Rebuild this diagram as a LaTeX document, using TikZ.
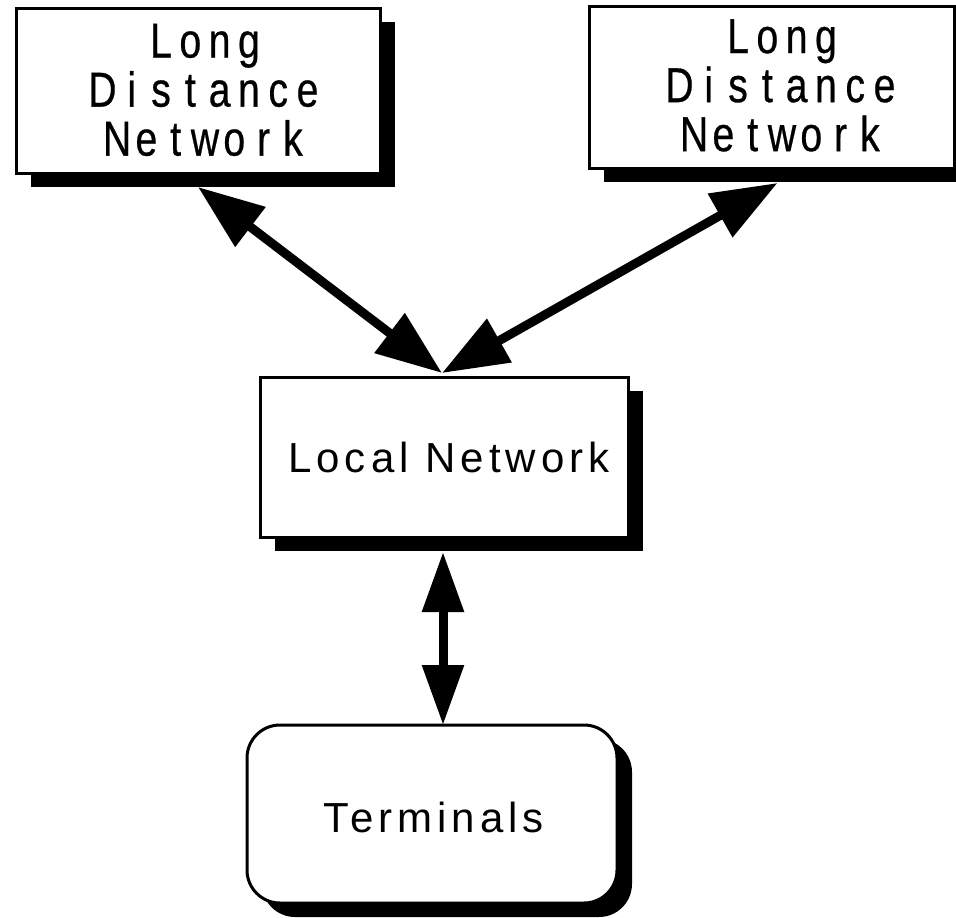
\documentclass[tikz,border=0pt]{standalone}
\usepackage{fontspec}
\usepackage{graphicx}
\setmainfont{Liberation Sans}
\newfontfamily\spacedsans{Liberation Sans}[LetterSpace=12]
\newfontfamily\gothicsans{Liberation Sans}[FakeBold=0.6]
\usetikzlibrary{arrows.meta,shadows}
\makeatletter
\newcommand\monoword[1]{\@tfor\mw@c:=#1\do{\makebox[29.3pt]{\scalebox{0.8}[1]{\mw@c}}}}
\makeatother

\begin{document}
\begin{tikzpicture}[x=1pt,y=-1pt,
  box/.style={draw, line width=3pt, fill=white, outer sep=0pt, inner sep=0pt,
    drop shadow={shadow xshift=15pt, shadow yshift=-14pt, opacity=1, fill=black}},
  ldtext/.style={font=\gothicsans\fontsize{49}{45}\selectfont},
  loctext/.style={font=\spacedsans\fontsize{42}{46}\selectfont},
  diag/.style={line width=9pt, {Triangle[length=66pt,width=48pt]}-{Triangle[length=66pt,width=48pt]}},
  vert/.style={line width=9pt, {Triangle[length=60pt,width=40pt]}-{Triangle[length=60pt,width=40pt]}}]

\fill[white] (0,0) rectangle (956,918);
\useasboundingbox (0,0) rectangle (956,918);

\node[box, ldtext, minimum width=364pt, minimum height=165pt] (ld1) at (198,90.5)
  {\kern14pt\raisebox{-6pt}[\height][\depth]{\begin{tabular}{@{}c@{}}\monoword{Long}\\\monoword{Distance}\\\monoword{Network}\end{tabular}}};
\node[box, ldtext, minimum width=365pt, minimum height=162pt] (ld2) at (771.5,87)
  {\kern21pt\raisebox{-5pt}[\height][\depth]{\begin{tabular}{@{}c@{}}\monoword{Long}\\\monoword{Distance}\\\monoword{Network}\end{tabular}}};
\node[box, loctext, minimum width=368pt, minimum height=160pt] (local) at (444,457)
  {\kern10pt Local Network};
\node[box, loctext, rounded corners=33pt, minimum width=370pt, minimum height=178pt] (term) at (432,814)
  {\kern4pt\raisebox{-3pt}[\height][\depth]{Terminals}};

\coordinate (a1) at ([yshift=-14pt]ld1.south);
\coordinate (a2) at ([xshift=6pt,yshift=-15pt]ld2.south);
\coordinate (top) at ([xshift=-2pt,yshift=4pt]local.north);
\coordinate (a3) at ([xshift=-1pt,yshift=-15pt]local.south);
\coordinate (a4) at (a3 |- term.north);

\draw[diag] (a1) -- (top);
\draw[diag] (a2) -- (top);
\draw[vert] (a3) -- (a4);
\end{tikzpicture}
\end{document}
